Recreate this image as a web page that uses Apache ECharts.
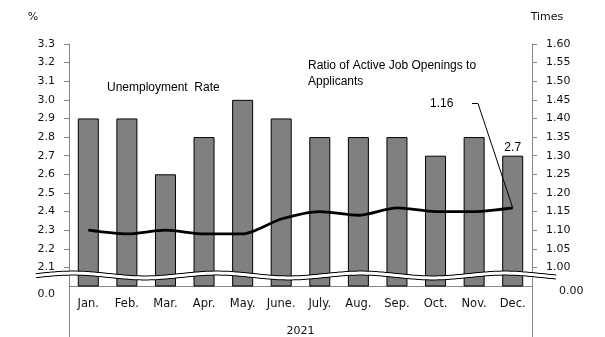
<!DOCTYPE html>
<html><head><meta charset="utf-8">
<script src="https://cdn.jsdelivr.net/npm/echarts@6/dist/echarts.min.js"></script>
<style>html,body{margin:0;padding:0;background:#fff}#c{width:605px;height:337px}</style>
</head><body><div id="c"></div>
<script>
const months = ['Jan.','Feb.','Mar.','Apr.','May.','June.','July.','Aug.','Sep.','Oct.','Nov.','Dec.'];
const yearLabel = '2021';
const unemployment = [2.9,2.9,2.6,2.8,3.0,2.9,2.8,2.8,2.8,2.7,2.8,2.7];
const ratio = [1.10,1.09,1.10,1.09,1.09,1.13,1.15,1.14,1.16,1.15,1.15,1.16];
const leftAxisRange = [2.0, 3.3, 0.1];
const rightAxisRange = [0.95, 1.60, 0.05];
const breakLabels = ['0.0', '0.00'];
const unitLabels = ['%', 'Times'];
const annotations = ['Unemployment  Rate', 'Ratio of Active Job Openings to\nApplicants'];

const chart = echarts.init(document.getElementById('c'));
const tickFont = 'DejaVu Sans';
const noteFont = 'Liberation Sans';
const axisGray = '#868686';

chart.setOption({
  animation: false,
  grid: {left: 69, right: 73, top: 44, bottom: 51, containLabel: false, outerBoundsMode: 'none'},
  xAxis: {
    type: 'category', data: months,
    axisLine: {show: true, lineStyle: {color: axisGray}},
    axisTick: {show: false},
    axisLabel: {margin: 12, fontFamily: tickFont, fontSize: 11.5, color: '#111'},
    name: yearLabel, nameLocation: 'middle', nameGap: 40,
    nameTextStyle: {fontFamily: tickFont, fontSize: 11, color: '#111'}
  },
  yAxis: [{
    type: 'value', min: leftAxisRange[0], max: leftAxisRange[1], interval: leftAxisRange[2],
    position: 'left',
    axisLine: {show: true, lineStyle: {color: axisGray}},
    axisTick: {show: true, length: 5, lineStyle: {color: axisGray}},
    splitLine: {show: false},
    axisLabel: {showMinLabel: false, margin: 14, fontFamily: tickFont, fontSize: 11, color: '#111',
      formatter: v => v.toFixed(1)}
  }, {
    type: 'value', min: rightAxisRange[0], max: rightAxisRange[1], interval: rightAxisRange[2],
    position: 'right',
    axisLine: {show: true, lineStyle: {color: axisGray}},
    axisTick: {show: true, length: 5, lineStyle: {color: axisGray}},
    splitLine: {show: false},
    axisLabel: {showMinLabel: false, margin: 14, fontFamily: tickFont, fontSize: 11, color: '#111',
      formatter: v => v.toFixed(2)}
  }],
  series: [{
    type: 'bar', yAxisIndex: 0, data: unemployment.map((v, i) => i === unemployment.length - 1 ?
      {value: v, label: {show: true, position: 'top', distance: 2, fontFamily: noteFont, fontSize: 12, color: '#000', formatter: p => p.value.toFixed(1)}} : v),
    barWidth: 21,
    itemStyle: {color: '#808080', borderColor: '#000', borderWidth: 1}
  }, {
    type: 'line', yAxisIndex: 1, data: ratio, smooth: 0.25,
    symbol: 'none', lineStyle: {color: '#000', width: 2.8}
  }]
});

function build() {
  const g = [];
  const pts = [];
  for (let x = 36; x <= 557; x += 2) {
    pts.push([x, 275.5 - 2.4 * Math.cos(2 * Math.PI * (x - 73) / 144)]);
  }
  g.push({type: 'polyline', shape: {points: pts}, style: {stroke: '#000', lineWidth: 5, fill: null}, z: 100});
  g.push({type: 'polyline', shape: {points: pts}, style: {stroke: '#fff', lineWidth: 3, fill: null}, z: 101});
  const yAxisBottom = 286;
  g.push({type: 'line', shape: {x1: 69.5, y1: yAxisBottom, x2: 69.5, y2: 337}, style: {stroke: axisGray, lineWidth: 1}, z: 99});
  g.push({type: 'line', shape: {x1: 532.5, y1: yAxisBottom, x2: 532.5, y2: 337}, style: {stroke: axisGray, lineWidth: 1}, z: 99});
  g.push({type: 'text', style: {text: breakLabels[0], x: 55, y: 294, align: 'right', verticalAlign: 'middle', font: '11px "' + tickFont + '"', fill: '#111'}, z: 102});
  g.push({type: 'text', style: {text: breakLabels[1], x: 559, y: 291, align: 'left', verticalAlign: 'middle', font: '11px "' + tickFont + '"', fill: '#111'}, z: 102});
  g.push({type: 'text', style: {text: unitLabels[0], x: 33, y: 17, align: 'center', verticalAlign: 'middle', font: '11px "' + tickFont + '"', fill: '#111'}});
  g.push({type: 'text', style: {text: unitLabels[1], x: 547, y: 17, align: 'center', verticalAlign: 'middle', font: '11px "' + tickFont + '"', fill: '#111'}});
  g.push({type: 'text', style: {text: annotations[0], x: 107, y: 88, align: 'left', verticalAlign: 'middle', font: '12px "' + noteFont + '"', fill: '#000'}});
  g.push({type: 'text', style: {text: annotations[1], x: 308, y: 58, align: 'left', verticalAlign: 'top', font: '12px "' + noteFont + '"', fill: '#000', lineHeight: 16}});
  const last = ratio.length - 1;
  const p = chart.convertToPixel({xAxisIndex: 0, yAxisIndex: 1}, [last, ratio[last]]);
  g.push({type: 'text', style: {text: ratio[last].toFixed(2), x: 430, y: 104, align: 'left', verticalAlign: 'middle', font: '12px "' + noteFont + '"', fill: '#000'}});
  g.push({type: 'polyline', shape: {points: [[472, 103.5], [478, 103.5], p]}, style: {stroke: '#000', lineWidth: 1, fill: null}, z: 50});
  chart.setOption({graphic: g});
}
build();
</script>
</body></html>
